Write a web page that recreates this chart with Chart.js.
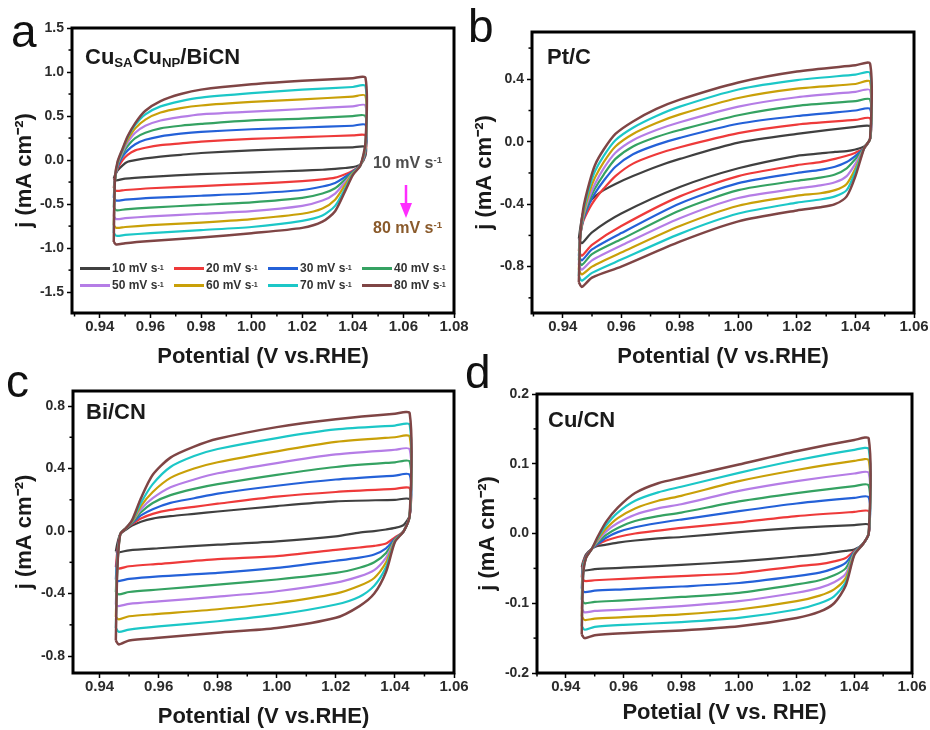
<!DOCTYPE html>
<html>
<head>
<meta charset="utf-8">
<script src="https://cdn.jsdelivr.net/npm/chart.js@4.4.1/dist/chart.umd.min.js"></script>
<style>
  body { margin: 0; background: #fff; width: 930px; height: 730px; position: relative; overflow: hidden;
         font-family: "Liberation Sans", Arial, sans-serif; }
  canvas { position: absolute; }
  .txt { position: absolute; line-height: 1; white-space: nowrap; font-weight: bold; }
  .letter { position: absolute; line-height: 1; font-size: 46px; color: #111; }
  .leg { position: absolute; display: flex; align-items: center; font-size: 12px; font-weight: bold; color: #333; white-space: nowrap; }
  .leg span.line { display: inline-block; width: 30px; height: 3px; margin-right: 2px; }
  sup { font-size: 0.6em; vertical-align: 0.55em; line-height: 0; }
  sub { font-size: 0.6em; vertical-align: -0.25em; line-height: 0; }
</style>
</head>
<body>
<canvas id="chartA" width="470" height="370" style="left:0;top:0"></canvas>
<canvas id="chartB" width="460" height="370" style="left:470px;top:0"></canvas>
<canvas id="chartC" width="470" height="370" style="left:0;top:360px"></canvas>
<canvas id="chartD" width="460" height="370" style="left:470px;top:360px"></canvas>

<div class="letter" style="left:11px;top:8px">a</div>
<div class="letter" style="left:468px;top:3px">b</div>
<div class="letter" style="left:6px;top:358px">c</div>
<div class="letter" style="left:465px;top:349px">d</div>

<div class="txt" style="left:85px;top:46px;font-size:22px;color:#1a1a1a">Cu<sub>SA</sub>Cu<sub>NP</sub>/BiCN</div>
<div class="txt" style="left:547px;top:46px;font-size:22px;color:#1a1a1a">Pt/C</div>
<div class="txt" style="left:86px;top:401px;font-size:22px;color:#1a1a1a">Bi/CN</div>
<div class="txt" style="left:548px;top:409px;font-size:22px;color:#1a1a1a">Cu/CN</div>

<div class="txt" style="left:373px;top:155px;font-size:16px;color:#4d4d4d">10 mV s<sup>-1</sup></div>
<div class="txt" style="left:373px;top:220px;font-size:16px;color:#8a5a2b">80 mV s<sup>-1</sup></div>
<svg style="position:absolute;left:396px;top:183px" width="20" height="38">
  <line x1="10" y1="2" x2="10" y2="24" stroke="#ff2dff" stroke-width="2.5"/>
  <polygon points="4,20 16,20 10,35" fill="#ff2dff"/>
</svg>

<div id="legendA"></div>

<script>
// scan rates and their colours
const rates = ['10', '20', '30', '40', '50', '60', '70', '80'];
const rateColors = ['#404040', '#ee3a3a', '#2461d8', '#35a262', '#b57de6', '#c9a008', '#1cc7c7', '#7f4545'];

// potentials of the forward (upper) and backward (lower) branch samples, V vs. RHE
const upperPotential = [0.9455, 0.946, 0.947, 0.949, 0.951, 0.954, 0.958, 0.964, 0.972, 0.98, 1.00, 1.02, 1.04, 1.045];
const lowerPotential = [1.045, 1.043, 1.04, 1.037, 1.033, 1.028, 1.02, 1.00, 0.98, 0.96, 0.95, 0.9465];

// (a) CuSA CuNP / BiCN, current density mA cm-2
const cuBiUpper = [
  [-0.21, -0.17, -0.12, -0.06, -0.02, 0.00, 0.02, 0.04, 0.06, 0.08, 0.11, 0.13, 0.145, 0.15],
  [-0.32, -0.20, -0.10, 0.00, 0.06, 0.11, 0.14, 0.17, 0.19, 0.21, 0.24, 0.26, 0.28, 0.28],
  [-0.43, -0.22, -0.08, 0.04, 0.11, 0.18, 0.23, 0.27, 0.30, 0.32, 0.35, 0.37, 0.39, 0.40],
  [-0.54, -0.23, -0.06, 0.07, 0.16, 0.25, 0.31, 0.36, 0.39, 0.41, 0.45, 0.47, 0.50, 0.50],
  [-0.64, -0.23, -0.05, 0.09, 0.20, 0.31, 0.39, 0.45, 0.49, 0.52, 0.55, 0.58, 0.61, 0.62],
  [-0.74, -0.23, -0.04, 0.11, 0.23, 0.36, 0.46, 0.54, 0.59, 0.62, 0.66, 0.69, 0.72, 0.73],
  [-0.83, -0.22, -0.03, 0.12, 0.26, 0.40, 0.52, 0.61, 0.67, 0.71, 0.76, 0.80, 0.83, 0.84],
  [-0.93, -0.20, -0.02, 0.13, 0.27, 0.42, 0.56, 0.67, 0.75, 0.80, 0.86, 0.90, 0.93, 0.935]
];
const cuBiLower = [
  [0.05, -0.05, -0.08, -0.09, -0.10, -0.11, -0.12, -0.14, -0.16, -0.19, -0.21, -0.23],
  [0.08, -0.06, -0.12, -0.16, -0.20, -0.22, -0.24, -0.27, -0.295, -0.32, -0.34, -0.35],
  [0.10, -0.06, -0.13, -0.19, -0.26, -0.30, -0.34, -0.38, -0.405, -0.43, -0.45, -0.46],
  [0.12, -0.06, -0.14, -0.22, -0.32, -0.38, -0.43, -0.48, -0.51, -0.54, -0.56, -0.57],
  [0.14, -0.06, -0.15, -0.25, -0.38, -0.46, -0.52, -0.58, -0.61, -0.64, -0.66, -0.67],
  [0.16, -0.06, -0.15, -0.28, -0.45, -0.55, -0.61, -0.67, -0.71, -0.74, -0.76, -0.77],
  [0.18, -0.06, -0.16, -0.32, -0.52, -0.63, -0.69, -0.76, -0.795, -0.83, -0.85, -0.86],
  [0.20, -0.06, -0.17, -0.35, -0.58, -0.70, -0.77, -0.83, -0.88, -0.92, -0.945, -0.96]
];

// (b) Pt/C
const ptcUpper = [
  [-0.62, -0.55, -0.45, -0.39, -0.35, -0.31, -0.27, -0.22, -0.16, -0.11, -0.006, 0.05, 0.095, 0.10],
  [-0.70, -0.60, -0.51, -0.43, -0.37, -0.30, -0.22, -0.14, -0.08, -0.035, 0.055, 0.11, 0.14, 0.15],
  [-0.73, -0.60, -0.50, -0.40, -0.33, -0.25, -0.16, -0.08, -0.02, 0.025, 0.115, 0.165, 0.20, 0.21],
  [-0.76, -0.60, -0.49, -0.38, -0.30, -0.21, -0.11, -0.03, 0.03, 0.075, 0.17, 0.23, 0.26, 0.27],
  [-0.79, -0.60, -0.48, -0.36, -0.27, -0.17, -0.07, 0.01, 0.075, 0.125, 0.225, 0.285, 0.32, 0.33],
  [-0.82, -0.60, -0.47, -0.33, -0.23, -0.13, -0.03, 0.05, 0.12, 0.175, 0.28, 0.34, 0.37, 0.385],
  [-0.86, -0.60, -0.45, -0.30, -0.19, -0.09, 0.01, 0.09, 0.165, 0.225, 0.335, 0.395, 0.43, 0.44],
  [-0.90, -0.60, -0.43, -0.27, -0.15, -0.05, 0.05, 0.13, 0.21, 0.27, 0.38, 0.45, 0.49, 0.50]
];
const ptcLower = [
  [0.02, -0.03, -0.05, -0.06, -0.065, -0.075, -0.09, -0.17, -0.29, -0.46, -0.58, -0.65],
  [0.02, -0.04, -0.07, -0.09, -0.11, -0.13, -0.15, -0.22, -0.35, -0.54, -0.66, -0.73],
  [0.02, -0.04, -0.09, -0.13, -0.16, -0.18, -0.20, -0.265, -0.395, -0.585, -0.69, -0.76],
  [0.02, -0.04, -0.11, -0.17, -0.21, -0.23, -0.25, -0.31, -0.44, -0.625, -0.72, -0.79],
  [0.02, -0.04, -0.14, -0.22, -0.26, -0.28, -0.30, -0.36, -0.49, -0.665, -0.76, -0.82],
  [0.02, -0.04, -0.17, -0.27, -0.31, -0.33, -0.345, -0.41, -0.54, -0.71, -0.80, -0.85],
  [0.02, -0.04, -0.19, -0.31, -0.35, -0.37, -0.39, -0.46, -0.59, -0.755, -0.84, -0.89],
  [0.02, -0.04, -0.22, -0.35, -0.40, -0.42, -0.44, -0.51, -0.64, -0.80, -0.87, -0.93]
];

// (c) Bi/CN
const bicnUpper = [
  [-0.13, -0.08, -0.02, 0.01, 0.035, 0.06, 0.08, 0.095, 0.11, 0.125, 0.16, 0.19, 0.20, 0.204],
  [-0.23, -0.13, -0.02, 0.02, 0.045, 0.08, 0.11, 0.135, 0.155, 0.175, 0.22, 0.25, 0.27, 0.274],
  [-0.31, -0.16, -0.02, 0.02, 0.05, 0.10, 0.14, 0.18, 0.21, 0.24, 0.29, 0.33, 0.355, 0.36],
  [-0.39, -0.19, -0.02, 0.02, 0.055, 0.12, 0.18, 0.23, 0.27, 0.30, 0.36, 0.41, 0.44, 0.445],
  [-0.47, -0.22, -0.02, 0.02, 0.06, 0.14, 0.21, 0.28, 0.33, 0.37, 0.435, 0.49, 0.52, 0.523],
  [-0.55, -0.24, -0.02, 0.02, 0.06, 0.16, 0.25, 0.34, 0.40, 0.44, 0.51, 0.57, 0.60, 0.604],
  [-0.62, -0.25, -0.02, 0.02, 0.065, 0.18, 0.30, 0.41, 0.48, 0.525, 0.595, 0.65, 0.675, 0.68],
  [-0.70, -0.25, -0.02, 0.02, 0.07, 0.21, 0.36, 0.47, 0.54, 0.59, 0.665, 0.715, 0.75, 0.753]
];
const bicnLower = [
  [0.10, 0.04, 0.02, 0.01, 0.00, -0.01, -0.034, -0.066, -0.087, -0.11, -0.123, -0.136],
  [0.10, 0.00, -0.04, -0.08, -0.095, -0.105, -0.12, -0.16, -0.18, -0.21, -0.225, -0.24],
  [0.10, 0.00, -0.05, -0.11, -0.15, -0.17, -0.19, -0.236, -0.268, -0.29, -0.306, -0.32],
  [0.10, 0.00, -0.055, -0.14, -0.20, -0.235, -0.268, -0.31, -0.343, -0.374, -0.39, -0.405],
  [0.10, 0.00, -0.06, -0.17, -0.25, -0.29, -0.33, -0.385, -0.42, -0.45, -0.466, -0.48],
  [0.10, 0.00, -0.06, -0.20, -0.30, -0.35, -0.40, -0.46, -0.50, -0.53, -0.545, -0.565],
  [0.10, 0.00, -0.065, -0.23, -0.35, -0.42, -0.47, -0.535, -0.577, -0.61, -0.63, -0.645],
  [0.10, 0.00, -0.07, -0.26, -0.40, -0.48, -0.555, -0.62, -0.65, -0.683, -0.70, -0.725]
];

// (d) Cu/CN
const cucnUpper = [
  [-0.048, -0.04, -0.03, -0.022, -0.018, -0.016, -0.013, -0.01, -0.007, -0.005, 0.002, 0.008, 0.012, 0.013],
  [-0.063, -0.042, -0.032, -0.022, -0.016, -0.01, -0.005, 0.00, 0.004, 0.008, 0.016, 0.025, 0.031, 0.032],
  [-0.079, -0.045, -0.033, -0.022, -0.015, -0.006, 0.002, 0.009, 0.015, 0.02, 0.032, 0.043, 0.051, 0.052],
  [-0.095, -0.045, -0.034, -0.022, -0.013, -0.002, 0.008, 0.018, 0.025, 0.03, 0.046, 0.058, 0.068, 0.069],
  [-0.108, -0.05, -0.035, -0.022, -0.011, 0.003, 0.015, 0.027, 0.036, 0.042, 0.061, 0.075, 0.086, 0.087],
  [-0.119, -0.055, -0.035, -0.022, -0.009, 0.007, 0.022, 0.036, 0.047, 0.054, 0.075, 0.091, 0.104, 0.105],
  [-0.133, -0.06, -0.035, -0.022, -0.007, 0.012, 0.03, 0.047, 0.059, 0.067, 0.087, 0.105, 0.12, 0.121],
  [-0.145, -0.06, -0.035, -0.022, -0.005, 0.017, 0.037, 0.058, 0.072, 0.08, 0.099, 0.118, 0.134, 0.136]
];
const cucnLower = [
  [0.00, -0.015, -0.023, -0.025, -0.027, -0.03, -0.033, -0.04, -0.045, -0.049, -0.051, -0.053],
  [0.00, -0.015, -0.025, -0.035, -0.04, -0.044, -0.047, -0.057, -0.061, -0.065, -0.067, -0.068],
  [0.00, -0.015, -0.026, -0.042, -0.05, -0.056, -0.061, -0.071, -0.076, -0.08, -0.082, -0.084],
  [0.00, -0.015, -0.027, -0.05, -0.06, -0.067, -0.073, -0.085, -0.091, -0.096, -0.098, -0.10],
  [0.00, -0.015, -0.028, -0.058, -0.07, -0.078, -0.085, -0.097, -0.104, -0.109, -0.111, -0.113],
  [0.00, -0.015, -0.029, -0.064, -0.08, -0.089, -0.097, -0.109, -0.116, -0.12, -0.122, -0.124],
  [0.00, -0.015, -0.03, -0.07, -0.09, -0.10, -0.109, -0.121, -0.127, -0.131, -0.134, -0.138],
  [0.00, -0.015, -0.031, -0.075, -0.10, -0.112, -0.121, -0.133, -0.139, -0.143, -0.146, -0.15]
];

// tick values
const xTicksWide = [0.94, 0.96, 0.98, 1.00, 1.02, 1.04, 1.06, 1.08];
const xTicks = [0.94, 0.96, 0.98, 1.00, 1.02, 1.04, 1.06];
const yTicksA = [-1.5, -1.0, -0.5, 0.0, 0.5, 1.0, 1.5];
const yTicksB = [-0.8, -0.4, 0.0, 0.4];
const yTicksC = [-0.8, -0.4, 0.0, 0.4, 0.8];
const yTicksD = [-0.2, -0.1, 0.0, 0.1, 0.2];

const FONT = '"Liberation Sans", Arial, sans-serif';

// closed CV loop: forward scan, then backward scan, back to start
function loopPoints(upper, lower) {
  const pts = upperPotential.map((x, i) => ({ x: x, y: upper[i] }));
  lowerPotential.forEach((x, i) => pts.push({ x: x, y: lower[i] }));
  pts.push(pts[0]);
  return pts;
}

// frame box and small minor ticks
const framePlugin = {
  id: 'frame',
  afterDraw(chart) {
    const { ctx, chartArea: a, scales } = chart;
    ctx.save();
    ctx.strokeStyle = '#000';
    ctx.lineWidth = 1.5;
    const minor = (scale, horizontal) => {
      const t = scale.ticks.map(k => k.value);
      const step = t[1] - t[0];
      for (let v = t[0] - step / 2; v <= scale.max + 1e-9; v += step) {
        if (v < scale.min - 1e-9) continue;
        const p = scale.getPixelForValue(v);
        ctx.beginPath();
        if (horizontal) { ctx.moveTo(p, a.bottom); ctx.lineTo(p, a.bottom + 3.5); }
        else { ctx.moveTo(a.left, p); ctx.lineTo(a.left - 3.5, p); }
        ctx.stroke();
      }
    };
    minor(scales.x, true);
    minor(scales.y, false);
    ctx.lineWidth = 3;
    ctx.strokeRect(a.left, a.top, a.right - a.left, a.bottom - a.top);
    ctx.restore();
  }
};

function makePanel(id, p) {
  const datasets = rates.map((r, i) => ({
    label: r + ' mV s-1',
    data: loopPoints(p.upper[i], p.lower[i]),
    borderColor: rateColors[i],
    borderWidth: i === 7 ? 2.5 : 2.2,
    pointRadius: 0,
    showLine: true,
    fill: false,
    tension: 0.25,
    order: 8 - i
  }));
  const gridOpts = { display: true, drawOnChartArea: false, drawTicks: true, tickLength: 5, tickWidth: 1.5, tickColor: '#000' };
  return new Chart(document.getElementById(id), {
    type: 'scatter',
    data: { datasets: datasets },
    options: {
      responsive: false,
      animation: false,
      devicePixelRatio: 1,
      layout: { padding: { left: 0, top: p.padTop, right: p.padRight, bottom: 0 } },
      plugins: { legend: { display: false }, tooltip: { enabled: false } },
      scales: {
        x: {
          type: 'linear', min: p.xMin, max: p.xMax,
          afterBuildTicks: s => { s.ticks = p.xTicks.map(v => ({ value: v })); },
          afterFit: s => { s.height = p.xAxisHeight; s.paddingLeft = 0; s.paddingRight = 0; },
          grid: gridOpts,
          border: { display: false },
          ticks: {
            font: { family: FONT, size: 15, weight: 'bold' }, color: '#2b2b2b', padding: 0,
            maxRotation: 0, autoSkip: false, callback: v => Number(v).toFixed(2)
          },
          title: {
            display: true, text: p.xTitle, color: '#1a1a1a',
            font: { family: FONT, size: 22, weight: 'bold' },
            padding: { top: p.xTitlePad, bottom: p.xTitlePad }
          }
        },
        y: {
          type: 'linear', min: p.yMin, max: p.yMax,
          afterBuildTicks: s => { s.ticks = p.yTicks.map(v => ({ value: v })); },
          afterFit: s => { s.width = p.yAxisWidth; s.paddingTop = 0; s.paddingBottom = 0; },
          grid: gridOpts,
          border: { display: false },
          ticks: {
            font: { family: FONT, size: 14, weight: 'bold' }, color: '#2b2b2b', padding: 3,
            autoSkip: false, callback: v => Number(v).toFixed(1)
          },
          title: {
            display: true, text: 'j (mA cm\u207B\u00B2)', color: '#1a1a1a',
            font: { family: FONT, size: 22, weight: 'bold' },
            padding: { top: p.yTitlePad, bottom: p.yTitlePad }
          }
        }
      }
    },
    plugins: [framePlugin]
  });
}

makePanel('chartA', {
  upper: cuBiUpper, lower: cuBiLower,
  xMin: 0.929, xMax: 1.08, yMin: -1.737, yMax: 1.5,
  xTicks: xTicksWide, yTicks: yTicksA,
  yAxisWidth: 72, padTop: 28, padRight: 16, xAxisHeight: 57,
  xTitle: 'Potential (V vs.RHE)', xTitlePad: 0, yTitlePad: 12
});
makePanel('chartB', {
  upper: ptcUpper, lower: ptcLower,
  xMin: 0.9295, xMax: 1.06, yMin: -1.097, yMax: 0.703,
  xTicks: xTicks, yTicks: yTicksB,
  yAxisWidth: 62, padTop: 32, padRight: 16, xAxisHeight: 57,
  xTitle: 'Potential (V vs.RHE)', xTitlePad: 0, yTitlePad: 2
});
makePanel('chartC', {
  upper: bicnUpper, lower: bicnLower,
  xMin: 0.931, xMax: 1.06, yMin: -0.908, yMax: 0.896,
  xTicks: xTicks, yTicks: yTicksC,
  yAxisWidth: 73, padTop: 31, padRight: 16, xAxisHeight: 57,
  xTitle: 'Potential (V vs.RHE)', xTitlePad: 0, yTitlePad: 12
});
makePanel('chartD', {
  upper: cucnUpper, lower: cucnLower,
  xMin: 0.930, xMax: 1.06, yMin: -0.2, yMax: 0.2,
  xTicks: xTicks, yTicks: yTicksD,
  yAxisWidth: 67, padTop: 34, padRight: 18, xAxisHeight: 57,
  xTitle: 'Potetial (V vs. RHE)', xTitlePad: 4, yTitlePad: 5
});

// legend of panel a, two rows of four
const legendBox = document.getElementById('legendA');
rates.forEach((r, i) => {
  const item = document.createElement('div');
  item.className = 'leg';
  item.style.left = (80 + (i % 4) * 94) + 'px';
  item.style.top = (261 + Math.floor(i / 4) * 17) + 'px';
  item.innerHTML = '<span class="line" style="background:' + rateColors[i] + '"></span>' + r + ' mV s<sup>-1</sup>';
  legendBox.appendChild(item);
});
</script>
</body>
</html>
